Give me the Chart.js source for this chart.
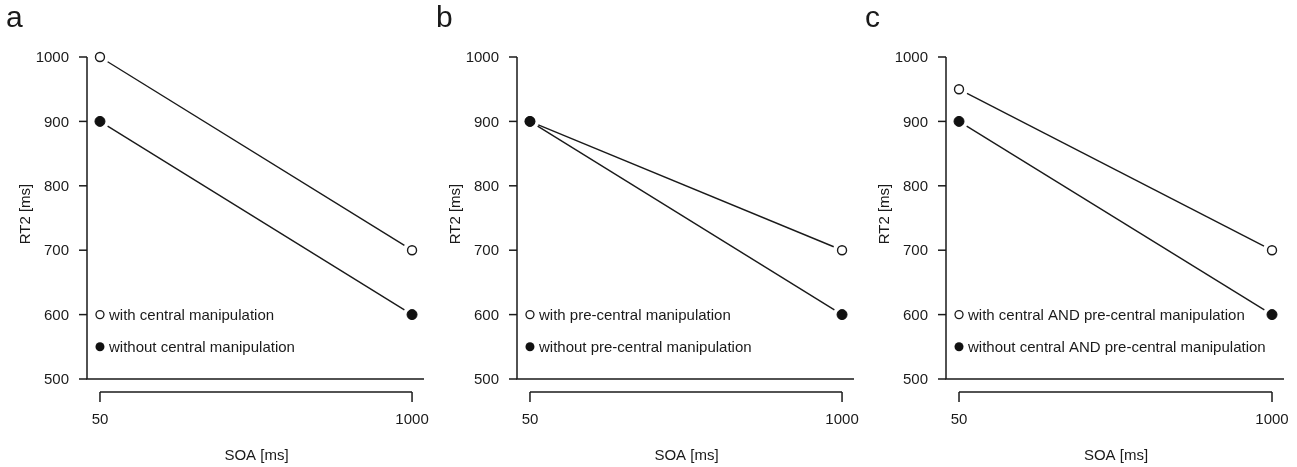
<!DOCTYPE html>
<html>
<head>
<meta charset="utf-8">
<script src="https://cdn.jsdelivr.net/npm/chart.js@4/dist/chart.umd.min.js"></script>
<style>
  html, body { margin: 0; padding: 0; background: #fff; }
  #wrap { position: relative; width: 1297px; height: 467px; }
  canvas { position: absolute; top: 0; }
</style>
</head>
<body>
<div id="wrap">
  <canvas id="pa" width="430" height="467" style="left:0px"></canvas>
  <canvas id="pb" width="430" height="467" style="left:430px"></canvas>
  <canvas id="pc" width="438" height="467" style="left:859px"></canvas>
</div>
<script>
// SOA levels (ms)
const soa = [50, 1000]
const yTicks = [500, 600, 700, 800, 900, 1000]

// panel a
const aWith = [1000, 700]
const aWithout = [900, 600]
const aLabels = ["with central manipulation", "without central manipulation"]

// panel b
const bWith = [900, 700]
const bWithout = [900, 600]
const bLabels = ["with pre-central manipulation", "without pre-central manipulation"]

// panel c
const cWith = [950, 700]
const cWithout = [900, 600]
const cLabels = ["with central AND pre-central manipulation", "without central AND pre-central manipulation"]

// legend rows sit at these RT2 values, at SOA = 50
const legendY = [600, 550]

const INK = "#1a1a1a"
const FONT = "'Liberation Sans', Arial, sans-serif"

// R style axes, type="b" lines with gaps, legend, panel letter
const rStyle = {
  id: "rStyle",
  beforeDatasetsDraw(chart, args, opts) {
    const ctx = chart.ctx
    const x = chart.scales.x
    const y = chart.scales.y
    const area = chart.chartArea
    ctx.save()
    ctx.strokeStyle = INK
    ctx.fillStyle = INK
    ctx.lineWidth = 1.5

    // left + bottom box
    ctx.beginPath()
    ctx.moveTo(area.left, y.getPixelForValue(1000))
    ctx.lineTo(area.left, area.bottom)
    ctx.lineTo(area.right, area.bottom)
    ctx.stroke()

    // y ticks
    ctx.font = "15px " + FONT
    ctx.textAlign = "right"
    ctx.textBaseline = "middle"
    yTicks.forEach(v => {
      const py = y.getPixelForValue(v)
      ctx.beginPath()
      ctx.moveTo(area.left - 8, py)
      ctx.lineTo(area.left, py)
      ctx.stroke()
      ctx.fillText(String(v), area.left - 18, py + 1)
    })

    // detached x axis
    const ay = area.bottom + 13
    const x0 = x.getPixelForValue(soa[0])
    const x1 = x.getPixelForValue(soa[soa.length - 1])
    ctx.beginPath()
    ctx.moveTo(x0, ay)
    ctx.lineTo(x1, ay)
    ctx.stroke()
    ctx.textAlign = "center"
    soa.forEach(v => {
      const px = x.getPixelForValue(v)
      ctx.beginPath()
      ctx.moveTo(px, ay)
      ctx.lineTo(px, ay + 10)
      ctx.stroke()
      ctx.fillText(String(v), px, ay + 28)
    })

    // axis titles
    ctx.fillText("SOA [ms]", (area.left + area.right) / 2 + 1, ay + 64)
    ctx.save()
    ctx.translate(26, 214)
    ctx.rotate(-Math.PI / 2)
    ctx.fillText("RT2 [ms]", 0, 0)
    ctx.restore()

    // panel letter
    ctx.font = "30px " + FONT
    ctx.textAlign = "left"
    ctx.textBaseline = "alphabetic"
    ctx.fillText(opts.letter, 6, 27)

    // connecting lines, stopped short of the points
    ctx.lineWidth = 1.4
    const gap = 9
    chart.data.datasets.forEach((ds, i) => {
      const pts = chart.getDatasetMeta(i).data
      for (let k = 0; k < pts.length - 1; k++) {
        const p = pts[k], q = pts[k + 1]
        const dx = q.x - p.x, dy = q.y - p.y
        const len = Math.hypot(dx, dy)
        const ux = dx / len, uy = dy / len
        ctx.beginPath()
        ctx.moveTo(p.x + ux * gap, p.y + uy * gap)
        ctx.lineTo(q.x - ux * gap, q.y - uy * gap)
        ctx.stroke()
      }
    })

    // legend
    ctx.font = "15px " + FONT
    ctx.textBaseline = "middle"
    const lx = x.getPixelForValue(soa[0])
    opts.labels.forEach((txt, i) => {
      const ly = y.getPixelForValue(legendY[i])
      ctx.beginPath()
      ctx.arc(lx, ly, i === 0 ? 4 : 4.5, 0, Math.PI * 2)
      if (i === 0) {
        ctx.fillStyle = "#fff"
        ctx.fill()
        ctx.lineWidth = 1.3
        ctx.stroke()
      } else {
        ctx.fillStyle = "#111"
        ctx.fill()
      }
      ctx.fillStyle = INK
      ctx.fillText(txt, lx + 9, ly + 1)
    })
    ctx.restore()
  }
}

function makePanel(id, withVals, withoutVals, labels, letter) {
  const ctx = document.getElementById(id).getContext("2d")
  const rightPad = document.getElementById(id).width - 425
  return new Chart(ctx, {
    type: "line",
    data: {
      labels: soa,
      datasets: [
        {
          label: labels[1],
          data: soa.map((s, i) => ({ x: s, y: withoutVals[i] })),
          showLine: false,
          clip: false,
          pointRadius: 5,
          pointBackgroundColor: "#111",
          pointBorderColor: "#111",
          pointBorderWidth: 1,
          order: 0,
        },
        {
          label: labels[0],
          data: soa.map((s, i) => ({ x: s, y: withVals[i] })),
          showLine: false,
          clip: false,
          pointRadius: 4.5,
          pointBackgroundColor: "#fff",
          pointBorderColor: INK,
          pointBorderWidth: 1.4,
          order: 1,
        },
      ],
    },
    options: {
      responsive: false,
      animation: false,
      layout: { padding: { left: 87, right: rightPad, top: 57, bottom: 88 } },
      plugins: {
        legend: { display: false },
        tooltip: { enabled: false },
        rStyle: { letter, labels },
      },
      scales: {
        x: { type: "linear", min: 10.5, max: 1036.4, display: false },
        y: { min: 500, max: 1000, display: false },
      },
    },
    plugins: [rStyle],
  })
}

makePanel("pa", aWith, aWithout, aLabels, "a")
makePanel("pb", bWith, bWithout, bLabels, "b")
makePanel("pc", cWith, cWithout, cLabels, "c")
</script>
</body>
</html>
